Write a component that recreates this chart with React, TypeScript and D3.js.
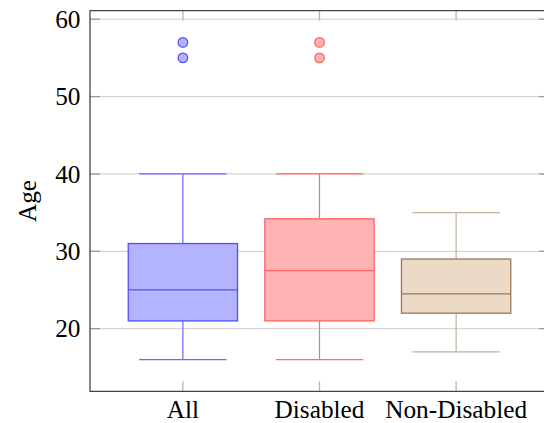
import React from "react";
import * as d3 from "d3";

// Box plot statistics per group
const categories = ["All", "Disabled", "Non-Disabled"];
const lowerWhisker = [16, 16, 17];
const lowerQuartile = [21, 21, 22];
const median = [25, 27.5, 24.5];
const upperQuartile = [31, 34.2, 29];
const upperWhisker = [40, 40, 35];
const outliers = [[55, 57], [55, 57], []];
const yTicks = [20, 30, 40, 50, 60];

const fills = ["#b3b3ff", "#ffb3b3", "#eadac6"];
const strokes = ["#5050ff", "#ff6262", "#9b7755"];
const whiskerStrokes = ["#6868ff", "#ff6a6a", "#c4b09b"];

const W = 544;
const H = 423;
const FONT = "'Liberation Serif', 'DejaVu Serif', serif";
const FS = 25.3;

export default function App() {
  const x = d3.scaleLinear().domain([0.32, 3.68]).range([90, 549]);
  const y = d3.scaleLinear().domain([11.9, 61.1]).range([391.3, 10.7]);
  const [x0, x1] = x.range();
  const [yb, yt] = y.range();
  const boxHalf = 0.4;
  const capHalf = 0.32;

  return (
    <svg
      width={W}
      height={H}
      style={{ position: "absolute", left: 0, top: 0, display: "block" }}
      fontFamily={FONT}
    >
      <rect width={W} height={H} fill="#fff" />
      {/* horizontal grid */}
      {yTicks.map((t) => (
        <line key={"g" + t} x1={x0} x2={x1} y1={y(t)} y2={y(t)} stroke="#d6d6d6" strokeWidth={1.3} />
      ))}
      {/* y ticks, both sides */}
      {yTicks.map((t) => (
        <g key={"yt" + t}>
          <line x1={x0} x2={x0 + 10} y1={y(t)} y2={y(t)} stroke="#9a9a9a" strokeWidth={1.3} />
          <line x1={x1 - 10} x2={x1} y1={y(t)} y2={y(t)} stroke="#9a9a9a" strokeWidth={1.3} />
          <text x={80.5} y={y(t)} dy="0.34em" textAnchor="end" fontSize={FS} fill="#000">
            {t}
          </text>
        </g>
      ))}
      {/* x ticks, both sides */}
      {categories.map((c, i) => (
        <g key={"xt" + c}>
          <line x1={x(i + 1)} x2={x(i + 1)} y1={yb} y2={yb - 10} stroke="#b5b5b5" strokeWidth={1.3} />
          <line x1={x(i + 1)} x2={x(i + 1)} y1={yt} y2={yt + 10} stroke="#b5b5b5" strokeWidth={1.3} />
          <text x={x(i + 1)} y={417.5} textAnchor="middle" fontSize={FS} fill="#000">
            {c}
          </text>
        </g>
      ))}
      {/* boxes */}
      {categories.map((c, i) => {
        const cx = x(i + 1);
        return (
          <g key={"b" + c}>
            <line x1={cx} x2={cx} y1={y(upperWhisker[i])} y2={y(upperQuartile[i])} stroke={whiskerStrokes[i]} strokeWidth={1.2} />
            <line x1={cx} x2={cx} y1={y(lowerQuartile[i])} y2={y(lowerWhisker[i])} stroke={whiskerStrokes[i]} strokeWidth={1.2} />
            <line x1={x(i + 1 - capHalf)} x2={x(i + 1 + capHalf)} y1={y(upperWhisker[i])} y2={y(upperWhisker[i])} stroke={whiskerStrokes[i]} strokeWidth={1.2} />
            <line x1={x(i + 1 - capHalf)} x2={x(i + 1 + capHalf)} y1={y(lowerWhisker[i])} y2={y(lowerWhisker[i])} stroke={whiskerStrokes[i]} strokeWidth={1.2} />
            <rect
              x={x(i + 1 - boxHalf)}
              y={y(upperQuartile[i])}
              width={x(i + 1 + boxHalf) - x(i + 1 - boxHalf)}
              height={y(lowerQuartile[i]) - y(upperQuartile[i])}
              fill={fills[i]}
              stroke={strokes[i]}
              strokeWidth={1.3}
            />
            <line x1={x(i + 1 - boxHalf)} x2={x(i + 1 + boxHalf)} y1={y(median[i])} y2={y(median[i])} stroke={strokes[i]} strokeWidth={1.3} />
            {outliers[i].map((v) => (
              <circle key={v} cx={cx} cy={y(v)} r={4.8} fill={fills[i]} stroke={strokes[i]} strokeWidth={1.2} />
            ))}
          </g>
        );
      })}
      {/* axis frame */}
      <path d={`M${x1},${yt}H${x0}V${yb}H${x1}`} fill="none" stroke="#444" strokeWidth={1.3} />
      <text
        transform={`translate(27,${(yt + yb) / 2}) rotate(-90)`}
        textAnchor="middle"
        dy="0.34em"
        fontSize={FS}
        fill="#000"
      >
        Age
      </text>
    </svg>
  );
}
